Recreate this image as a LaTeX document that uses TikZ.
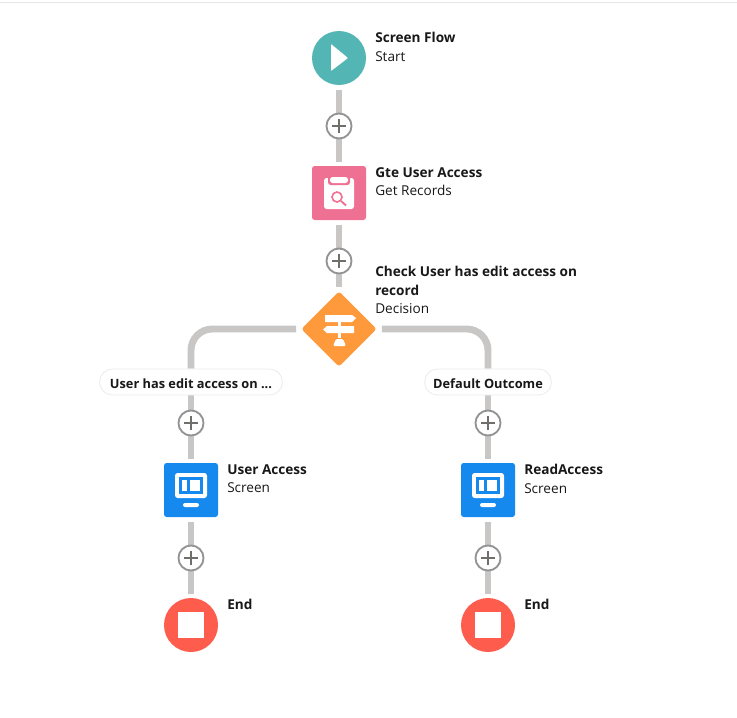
\documentclass[tikz,border=0pt]{standalone}
\usepackage{fontspec}
\setmainfont{Open Sans}
\usetikzlibrary{shapes.geometric,backgrounds}
\definecolor{flowgray}{HTML}{C9C7C5}
\definecolor{ringgray}{HTML}{939393}
\definecolor{plusgray}{HTML}{706E6B}
\definecolor{tealstart}{HTML}{54B6B4}
\definecolor{pinkget}{HTML}{EE7093}
\definecolor{orangedec}{HTML}{FF9A3C}
\definecolor{bluescreen}{HTML}{1589EE}
\definecolor{redend}{HTML}{FE5C4C}
\definecolor{labeltext}{HTML}{181818}
\tikzset{
  roundicon/.style={circle, minimum size=40.5pt, inner sep=0pt},
  squareicon/.style={rectangle, rounded corners=2pt, minimum size=40.5pt, inner sep=0pt},
  plusnode/.style={circle, draw=ringgray, fill=white, line width=1.4pt, minimum size=18.8pt, inner sep=0pt,
    path picture={\draw[plusgray, line width=1.1pt] (path picture bounding box.center) +(-7,0) -- +(7,0) +(0,-7) -- +(0,7);}},
  outcome/.style={rectangle, rounded corners=9.5pt, draw=black!8, fill=white, line width=.6pt, minimum height=19.5pt, inner sep=0pt, text height=9.6pt, text depth=0pt, text=labeltext, font=\fontsize{9.6}{11}\selectfont\bfseries},
  flowout/.style={draw=flowgray, line width=5.2pt, shorten <=3.7pt},
  flowin/.style={draw=flowgray, line width=5.2pt, shorten >=3pt},
  flowlabel/.style={anchor=north west, inner sep=0pt, align=left, text=labeltext, font=\fontsize{10.2}{13.9}\selectfont}
}
\begin{document}
\begin{tikzpicture}[x=0.75pt,y=0.75pt,yscale=-1,xscale=1]
\useasboundingbox (0,0) rectangle (737,717);

\draw [black!10, line width=.75pt] (0,3) -- (737,3);

\draw (339,58) node (start) [roundicon, fill=tealstart] {};
\draw (339,126) node (plusa) [plusnode] {};
\draw (339,193) node (getrec) [squareicon, fill=pinkget] {};
\draw (339,261) node (plusb) [plusnode] {};
\draw (339,329) node (decide) [diamond, aspect=1, rounded corners=2pt, minimum size=56.5pt, inner sep=0pt, fill=orangedec] {};

\draw (191,382) node (edit) [outcome, minimum width=137pt] {User has edit access on ...};
\draw (191,423) node (plusc) [plusnode] {};
\draw (191,490) node (useraccess) [squareicon, fill=bluescreen] {};
\draw (191,558) node (plusd) [plusnode] {};
\draw (191,625) node (endleft) [roundicon, fill=redend] {};

\draw (488,382) node (default) [outcome, minimum width=95pt] {Default Outcome};
\draw (488,423) node (pluse) [plusnode] {};
\draw (488,490) node (readaccess) [squareicon, fill=bluescreen] {};
\draw (488,558) node (plusf) [plusnode] {};
\draw (488,625) node (endright) [roundicon, fill=redend] {};

\begin{scope}[on background layer]
\draw [flowout] (start) -- (plusa);
\draw [flowin] (plusa) -- (getrec);
\draw [flowout] (getrec) -- (plusb);
\draw [flowin] (plusb) -- (decide);
\draw [flowout, rounded corners=16pt] (decide) -| (edit);
\draw [flowout, rounded corners=16pt] (decide) -| (default);
\draw [draw=flowgray, line width=5.2pt] (edit) -- (plusc);
\draw [flowin] (plusc) -- (useraccess);
\draw [flowout] (useraccess) -- (plusd);
\draw [flowin] (plusd) -- (endleft);
\draw [draw=flowgray, line width=5.2pt] (default) -- (pluse);
\draw [flowin] (pluse) -- (readaccess);
\draw [flowout] (readaccess) -- (plusf);
\draw [flowin] (plusf) -- (endright);
\end{scope}

% icons
\fill [white, rounded corners=.5pt] (331,44) -- (348,58) -- (331,71) -- cycle;

\fill [white, rounded corners=2pt] (324,178) rectangle (354,209);
\fill [pinkget, rounded corners=2pt] (328,175) rectangle (350,185);
\fill [white, rounded corners=2pt] (330,177) rectangle (348,183);
\draw [pinkget, line width=1.2pt] (337,197) circle (5);
\draw [pinkget, line width=1.4pt] (341,201) -- (346,205.5);

\fill [white] (325,315) -- (352,315) -- (356,318) -- (352,322) -- (325,322) -- cycle;
\fill [white] (327,326) -- (354,326) -- (354,333) -- (327,333) -- (323,329.5) -- cycle;
\fill [white] (338,322) rectangle (341,326);
\fill [white] (338,333) rectangle (341,338);
\fill [white, rounded corners=1pt] (336,339) -- (343,339) -- (346,346) -- (333,346) -- cycle;

\foreach \scr in {useraccess,readaccess} {
  \begin{scope}[shift={(\scr.center)}]
  \fill [white, rounded corners=2pt] (-16,-17) rectangle (16,8);
  \fill [bluescreen] (-12,-13) rectangle (12,4);
  \fill [white] (-9,-10) rectangle (-4,1);
  \fill [white] (-1,-10) rectangle (9,1);
  \fill [white, rounded corners=1.5pt] (-8,13) rectangle (8,17);
  \end{scope}
}

\fill [white] (178,612) rectangle (204,638);
\fill [white] (475,612) rectangle (501,638);

% labels
\draw (375,32) node (startlabel) [flowlabel] {\textbf{Screen Flow}\\Start};
\draw (375,167) node (getlabel) [flowlabel] {\textbf{Gte User Access}\\Get Records};
\draw (375,266) node (decidelabel) [flowlabel] {\textbf{Check User has edit access on}\\\textbf{record}\\Decision};
\draw (227,464) node (useraccesslabel) [flowlabel] {\textbf{User Access}\\Screen};
\draw (524,464) node (readaccesslabel) [flowlabel] {\textbf{ReadAccess}\\Screen};
\draw (227,599) node (endleftlabel) [flowlabel] {\textbf{End}};
\draw (524,599) node (endrightlabel) [flowlabel] {\textbf{End}};

\end{tikzpicture}
\end{document}
